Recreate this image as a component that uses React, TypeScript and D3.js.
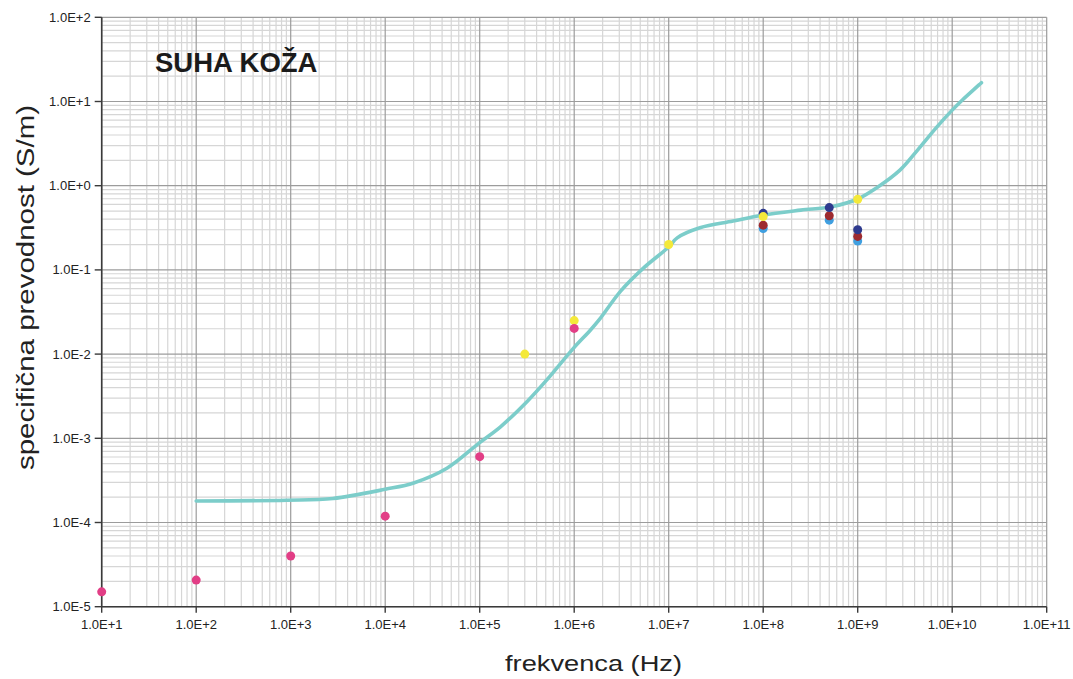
import React from "react";
import * as d3 from "d3";

// Skin (dry) conductivity vs frequency – model curve
const curveFreq = [
  1.0e2, 9.1e2, 2.8e3, 1.0e4, 2.0e4, 4.5e4, 1.0e5, 1.66e5, 3.16e5, 5.5e5,
  9.8e5, 1.48e6, 1.86e6, 3.1e6, 5.4e6, 1.0e7, 1.23e7, 2.14e7, 4.8e7, 1.0e8,
  2.5e8, 5.25e8, 1.0e9, 1.58e9, 2.8e9, 4.3e9, 6.9e9, 1.0e10, 1.29e10, 2.04e10,
];
const curveSigma = [
  1.8e-4, 1.84e-4, 1.93e-4, 2.48e-4, 2.95e-4, 4.41e-4, 8.9e-4, 1.37e-3, 2.72e-3, 5.4e-3,
  1.17e-2, 1.92e-2, 2.6e-2, 5.6e-2, 0.105, 0.187, 0.24, 0.316, 0.38, 0.449,
  0.513, 0.562, 0.695, 0.94, 1.53, 2.65, 5.0, 7.9, 10.5, 16.7,
];

// Measured points, one array per source
const lightBlueFreq = [1e8, 5e8, 1e9];
const lightBlueSigma = [0.31, 0.39, 0.22];
const redFreq = [1e8, 5e8, 1e9];
const redSigma = [0.34, 0.44, 0.25];
const navyFreq = [1e8, 5e8, 1e9];
const navySigma = [0.47, 0.55, 0.3];
const yellowFreq = [3e5, 1e6, 1e7, 1e8, 1e9];
const yellowSigma = [1.0e-2, 2.5e-2, 0.2, 0.43, 0.69];
const pinkFreq = [1e1, 1e2, 1e3, 1e4, 1e5, 1e6];
const pinkSigma = [1.5e-5, 2.07e-5, 4.0e-5, 1.19e-4, 6.05e-4, 2.02e-2];

const xTickValues = [1e1, 1e2, 1e3, 1e4, 1e5, 1e6, 1e7, 1e8, 1e9, 1e10, 1e11];
const xTickLabels = [
  "1.0E+1", "1.0E+2", "1.0E+3", "1.0E+4", "1.0E+5", "1.0E+6",
  "1.0E+7", "1.0E+8", "1.0E+9", "1.0E+10", "1.0E+11",
];
const yTickValues = [1e-5, 1e-4, 1e-3, 1e-2, 1e-1, 1e0, 1e1, 1e2];
const yTickLabels = [
  "1.0E-5", "1.0E-4", "1.0E-3", "1.0E-2", "1.0E-1", "1.0E+0", "1.0E+1", "1.0E+2",
];

const W = 1073;
const H = 679;
const left = 101.7;
const right = 1046.7;
const top = 17.3;
const bottom = 606.7;

const FONT = "'Liberation Sans', Arial, Helvetica, sans-serif";

export default function App() {
  const x = d3.scaleLog().domain([1e1, 1e11]).range([left, right]);
  const y = d3.scaleLog().domain([1e-5, 1e2]).range([bottom, top]);

  // minor grid values (2..9 within each decade)
  const minorX: number[] = [];
  for (let i = 0; i < xTickValues.length - 1; i++) {
    for (let k = 2; k <= 9; k++) minorX.push(xTickValues[i] * k);
  }
  const minorY: number[] = [];
  for (let i = 0; i < yTickValues.length - 1; i++) {
    for (let k = 2; k <= 9; k++) minorY.push(yTickValues[i] * k);
  }

  const curvePts: [number, number][] = curveFreq.map((f, i) => [x(f), y(curveSigma[i])]);
  const linePath = d3.line().curve(d3.curveCatmullRom.alpha(0.5))(curvePts) || "";

  const dots = (fs: number[], ss: number[], color: string, key: string) =>
    fs.map((f, i) => (
      <circle key={key + i} cx={x(f)} cy={y(ss[i])} r={4.5} fill={color} />
    ));

  return (
    <svg
      width={W}
      height={H}
      style={{ position: "absolute", left: 0, top: 0, background: "#fff" }}
    >
      <rect x={0} y={0} width={W} height={H} fill="#fff" />
      {/* minor grid */}
      {minorX.map((v, i) => (
        <line key={"mx" + i} x1={x(v)} x2={x(v)} y1={top} y2={bottom} stroke="#d6d6d6" strokeWidth={1.2} />
      ))}
      {minorY.map((v, i) => (
        <line key={"my" + i} x1={left} x2={right} y1={y(v)} y2={y(v)} stroke="#d6d6d6" strokeWidth={1.2} />
      ))}
      {/* major grid */}
      {xTickValues.map((v, i) => (
        <line key={"gx" + i} x1={x(v)} x2={x(v)} y1={top} y2={bottom} stroke="#9c9c9c" strokeWidth={1.2} />
      ))}
      {yTickValues.map((v, i) => (
        <line key={"gy" + i} x1={left} x2={right} y1={y(v)} y2={y(v)} stroke="#9c9c9c" strokeWidth={1.2} />
      ))}

      {/* axes */}
      <line x1={left} x2={left} y1={top} y2={bottom} stroke="#3a3a3a" strokeWidth={1.6} />
      <line x1={left} x2={right} y1={bottom} y2={bottom} stroke="#3a3a3a" strokeWidth={1.6} />
      {yTickValues.map((v, i) => (
        <g key={"yt" + i}>
          <line x1={left - 7} x2={left} y1={y(v)} y2={y(v)} stroke="#3a3a3a" strokeWidth={1.4} />
          <text
            x={left - 11}
            y={y(v)}
            dy="0.35em"
            textAnchor="end"
            fontFamily={FONT}
            fontSize={13}
            fill="#222"
          >
            {yTickLabels[i]}
          </text>
        </g>
      ))}
      {xTickValues.map((v, i) => (
        <g key={"xt" + i}>
          <line x1={x(v)} x2={x(v)} y1={bottom} y2={bottom + 6} stroke="#3a3a3a" strokeWidth={1.4} />
          <text
            x={x(v)}
            y={628.5}
            textAnchor="middle"
            fontFamily={FONT}
            fontSize={13}
            fill="#222"
          >
            {xTickLabels[i]}
          </text>
        </g>
      ))}

      {/* model curve */}
      <path d={linePath} fill="none" stroke="#7ccdca" strokeWidth={3.6} strokeLinejoin="round" strokeLinecap="round" />

      {/* measurements */}
      {dots(lightBlueFreq, lightBlueSigma, "#3f9fe0", "lb")}
      {dots(redFreq, redSigma, "#9e2a2f", "rd")}
      {dots(navyFreq, navySigma, "#2e3a8e", "nv")}
      {dots(yellowFreq, yellowSigma, "#f4e93a", "ye")}
      {dots(pinkFreq, pinkSigma, "#e23e86", "pk")}

      {/* title and axis titles */}
      <text x={155} y={71.5} fontFamily={FONT} fontSize={27.5} fontWeight="bold" fill="#1a1a1a">
        SUHA KOŽA
      </text>
      <text
        x={505}
        y={671}
        fontFamily={FONT}
        fontSize={22.5}
        fill="#222"
        textLength={177}
        lengthAdjust="spacingAndGlyphs"
      >
        frekvenca (Hz)
      </text>
      <text
        transform={`translate(33.5, 470) rotate(-90)`}
        fontFamily={FONT}
        fontSize={23}
        fill="#222"
        textLength={365}
        lengthAdjust="spacingAndGlyphs"
      >
        specifična prevodnost (S/m)
      </text>
    </svg>
  );
}
